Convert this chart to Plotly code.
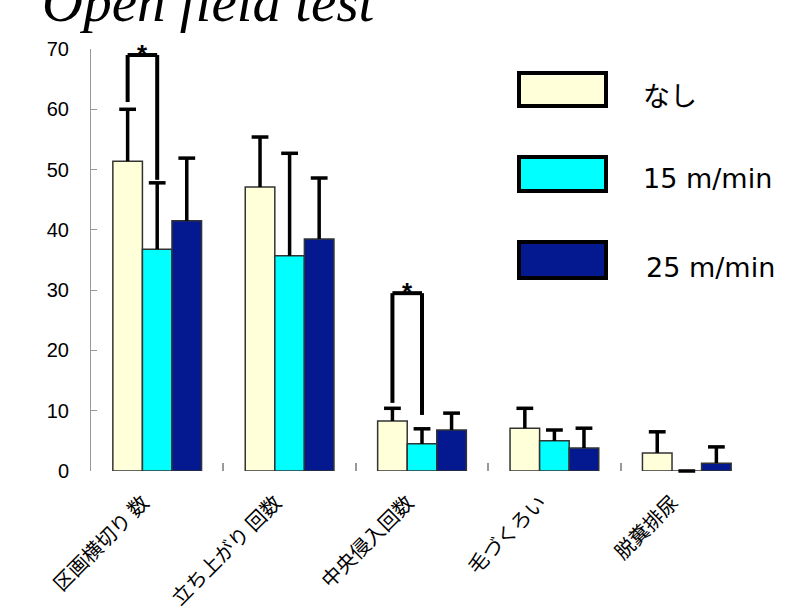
import plotly.graph_objects as go

categories = ["区画横切り 数", "立ち上がり 回数", "中央侵入回数", "毛づくろい", "脱糞排尿"]
series_names = ["なし", "15 m/min", "25 m/min"]
vals_none = [51.4, 47.1, 8.3, 7.1, 3.0]
err_none = [8.6, 8.3, 2.1, 3.3, 3.5]
vals_15 = [36.8, 35.7, 4.5, 5.0, 0.0]
err_15 = [11.0, 17.0, 2.5, 1.8, 0.0]
vals_25 = [41.5, 38.5, 6.8, 3.8, 1.3]
err_25 = [10.4, 10.1, 2.8, 3.3, 2.7]
colors = ["#FFFFDA", "#00FFFF", "#041890"]
yticks = [0, 10, 20, 30, 40, 50, 60, 70]

# significance brackets: (category index, left bottom, top, right bottom)
brackets = [(0, 61.2, 69.0, 48.3), (2, 11.3, 29.5, 9.3)]

BARGAP = 0.33
W = (1 - BARGAP) / 3

fig = go.Figure()
for i, (name, v, e, c) in enumerate(zip(series_names, [vals_none, vals_15, vals_25],
                                        [err_none, err_15, err_25], colors)):
    fig.add_trace(go.Bar(
        x=categories, y=v, name=name, offsetgroup=str(i),
        marker=dict(color=c, line=dict(color="#333333", width=1.5)),
    ))
for i, (v, e) in enumerate(zip([vals_none, vals_15, vals_25],
                               [err_none, err_15, err_25])):
    fig.add_trace(go.Scatter(
        x=categories, y=[a + b for a, b in zip(v, e)], offsetgroup=str(i),
        mode="markers", cliponaxis=False, showlegend=False,
        marker=dict(symbol="line-ew", size=12, color="black",
                    line=dict(width=3.5, color="black")),
        error_y=dict(type="data", symmetric=False, array=[0] * len(e),
                     arrayminus=e, width=0, thickness=3.5, color="black"),
    ))

shapes = []
annotations = []
for ci, lb, top, rb in brackets:
    xl = ci - W
    xr = ci
    for (x0, y0, x1, y1) in [(xl, lb, xl, top), (xl, top, xr, top), (xr, top, xr, rb)]:
        shapes.append(dict(type="line", xref="x", yref="y", x0=x0, y0=y0, x1=x1, y1=y1,
                           line=dict(color="black", width=4)))
    annotations.append(dict(x=(xl + xr) / 2, y=top, xref="x", yref="y", text="<b>*</b>",
                            showarrow=False, yanchor="middle", yshift=1,
                            font=dict(size=26, color="black", family="Liberation Sans")))

# custom legend (pixel -> paper)
def px_x(p):
    return (p - 91) / 662.0

def px_y(p):
    return (471 - p) / 422.0

leg_boxes = [(73, 106), (157, 191), (242, 278)]
leg_text_y = [97, 179, 267]
leg_text_x = [641, 641, 644]
for (t, b), c, name, ty, tx in zip(leg_boxes, colors, series_names, leg_text_y, leg_text_x):
    shapes.append(dict(type="rect", xref="paper", yref="paper",
                       x0=px_x(519), x1=px_x(606), y0=px_y(b), y1=px_y(t),
                       fillcolor=c, line=dict(color="black", width=4)))
    annotations.append(dict(x=px_x(tx), y=px_y(ty), xref="paper", yref="paper",
                            text=name, showarrow=False, xanchor="left", yanchor="middle",
                            font=dict(size=27, color="black",
                                      family="DejaVu Sans, Noto Sans CJK JP")))

annotations.append(dict(x=px_x(40), y=px_y(35), xref="paper", yref="paper",
                        text="<i>Open field test</i>", showarrow=False,
                        xanchor="left", yanchor="bottom",
                        font=dict(size=57, color="black", family="Liberation Serif")))

fig.update_layout(
    width=791, height=612,
    margin=dict(l=91, r=38, t=49, b=141, autoexpand=False),
    paper_bgcolor="white", plot_bgcolor="white",
    barmode="group", bargap=BARGAP, bargroupgap=0,
    scattermode="group", scattergap=BARGAP,
    showlegend=False,
    shapes=shapes, annotations=annotations,
    xaxis=dict(showline=False, ticks="inside", tickson="boundaries", ticklen=8,
               tickcolor="#999999", tickwidth=1.5, showgrid=False, zeroline=False,
               tickangle=-45, ticklabelstandoff=1, automargin=False,
               tickmode="array", tickvals=categories,
               ticktext=[c + "\u3000" for c in categories],
               tickfont=dict(size=20, color="black", family="Noto Sans CJK JP")),
    yaxis=dict(range=[0, 70], tickvals=yticks, showline=True, linecolor="#999999",
               linewidth=1, ticks="inside", ticklen=6, tickcolor="#999999",
               showgrid=False, zeroline=False, ticklabelstandoff=17, automargin=False,
               tickfont=dict(size=20, color="black", family="Liberation Sans")),
)

fig.write_html("out.html")
